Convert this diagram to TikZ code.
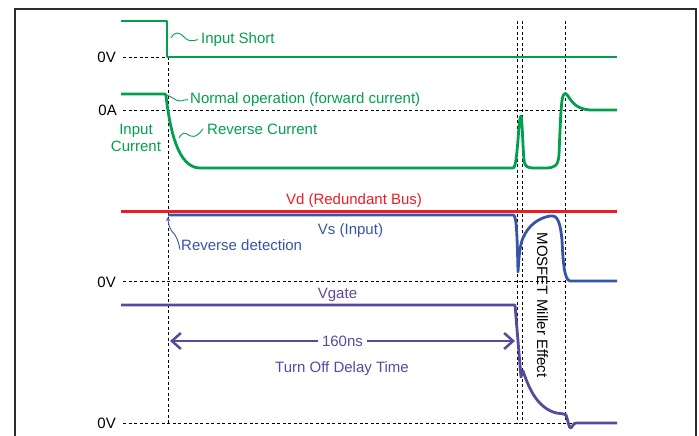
\documentclass[tikz,border=0pt]{standalone}
\usepackage{fontspec}
\setmainfont{Liberation Sans}
\usetikzlibrary{arrows.meta}
\definecolor{sgreen}{RGB}{0,160,78}
\definecolor{sred}{RGB}{237,28,36}
\definecolor{sblue}{RGB}{55,85,165}
\definecolor{spurple}{RGB}{90,72,158}
\definecolor{frm}{RGB}{45,45,45}
\begin{document}
\begin{tikzpicture}[x=1pt,y=-1pt,
  lbl/.style={font=\fontsize{15}{16.5}\selectfont, inner sep=0pt},
  trace/.style={line width=2.8pt, line join=round},
  guide/.style={line width=0.9pt, dash pattern=on 3pt off 2.5pt},
  squig/.style={line width=0.9pt},
]
\useasboundingbox (0,0) rectangle (699,436);
\draw[frm, line width=1.4pt] (15,436) -- (15,9) -- (696,9) -- (696,436);

% guides
\draw[guide] (123,57) -- (617,57);
\draw[guide] (123,110) -- (617,110);
\draw[guide] (123,281.5) -- (617,281.5);
\draw[guide] (123,423) -- (617,423);
\draw[guide] (168,57) -- (168,423);
\draw[guide] (517,21) -- (517,423);
\draw[guide] (522,21) -- (522,423);
\draw[guide] (565,21) -- (565,423);

% axis labels
\node[lbl, anchor=east] (v1) at (116,57) {0V};
\node[lbl, anchor=east] (a1) at (117,110) {0A};
\node[lbl, anchor=east] (v2) at (116,282) {0V};
\node[lbl, anchor=east] (v3) at (116,423) {0V};
\node[lbl, sgreen, align=center, anchor=base] (ic) at (136,151) {Input\\Current};

% Input short trace
\draw[trace, sgreen] (121,21) -- (167,21) -- (167,57) -- (617,57);

% Input current trace
\draw[trace, sgreen] (121,94) -- (164,94) .. controls (166,94) and (166,95) .. (166,96)
  .. controls (170,130) and (178,168) .. (200,168) -- (513,168)
  .. controls (516,168) and (517,150) .. (518,140) .. controls (519,125) and (520,116) .. (521,116)
  .. controls (522,116) and (523,150) .. (524,160) .. controls (525,167) and (527,168) .. (535,168)
  -- (545,168) .. controls (555,168) and (558,166) .. (559,155)
  .. controls (560,130) and (561,100) .. (563,96) .. controls (564,93) and (566,93) .. (568,96)
  .. controls (573,104) and (578,109) .. (590,110) -- (617,110);

% Vd
\draw[line width=3pt, sred] (121,211) -- (617,211);
% Vs
\draw[trace, sblue] (168,215) -- (513,215) .. controls (516,215) and (517,225) .. (518,272)
  .. controls (519,255) and (520,245) .. (523,238) .. controls (528,226) and (538,218) .. (550,216)
  .. controls (557,215) and (560,220) .. (562,240) .. controls (563,260) and (564,280) .. (570,281)
  -- (617,281);
% Vgate
\draw[trace, spurple] (121,305) -- (515,305) -- (521,377) -- (523,371)
  .. controls (528,385) and (535,405) .. (553,412) .. controls (558,414) and (563,413) .. (566,415)
  .. controls (568,420) and (569,429) .. (571,428) .. controls (573,427) and (573,423) .. (576,423)
  -- (617,423);

% labels with squiggles
\node[lbl, sgreen, anchor=base west] (short) at (201,43.5) {Input Short};
\coordinate (pshort) at (171,38);
\draw[squig, sgreen] (pshort) .. controls (175,31) and (179,32) .. (184,37)
  .. controls (188,42) and (193,41) .. ([xshift=-3pt]short.west);

\node[lbl, sgreen, anchor=base west] (normal) at (190,103.5) {Normal operation (forward current)};
\coordinate (pnormal) at (166,95);
\draw[squig, sgreen] (pnormal) .. controls (172,96) and (175,101) .. (180,101)
  .. controls (184,101) and (185,99) .. ([xshift=-2pt]normal.west);

\node[lbl, sgreen, anchor=base west] (rev) at (207,134) {Reverse Current};
\coordinate (prev) at (179,138);
\draw[squig, sgreen] (prev) .. controls (181,134) and (184,132) .. (187,134)
  .. controls (191,137) and (196,139) .. ([xshift=-4pt]rev.west);

\node[lbl, sred, anchor=base] (vd) at (354,204) {Vd (Redundant Bus)};
\node[lbl, sblue, anchor=base] (vs) at (350.5,234) {Vs (Input)};
\node[lbl, sblue, anchor=base west] (det) at (181,250) {Reverse detection};
\coordinate (pdet) at (168,217);
\draw[squig, sblue, -{Stealth[length=4pt,width=4pt]}] ([shift={(-1pt,-5pt)}]det.west)
  .. controls (177,232) and (171,233) .. (169.5,227) .. controls (168.5,223) and (168,221) .. (pdet);

\node[lbl, spurple, anchor=base] (vg) at (337.5,298.7) {Vgate};

% delay arrow
\coordinate (dl) at (170,341);
\coordinate (dr) at (515,341);
\draw[line width=2.5pt, spurple, {Straight Barb[length=9pt,width=16pt]}-{Straight Barb[length=9pt,width=16pt]}]
  (dl) -- node[lbl, fill=white, inner xsep=4pt, inner ysep=2pt, text=spurple] (ns) {160ns} (dr);
\node[lbl, spurple, anchor=base] (tod) at (342,372) {Turn Off Delay Time};

\node[lbl, rotate=-90] (miller) at (542.5,305) {MOSFET Miller Effect};
\end{tikzpicture}
\end{document}
